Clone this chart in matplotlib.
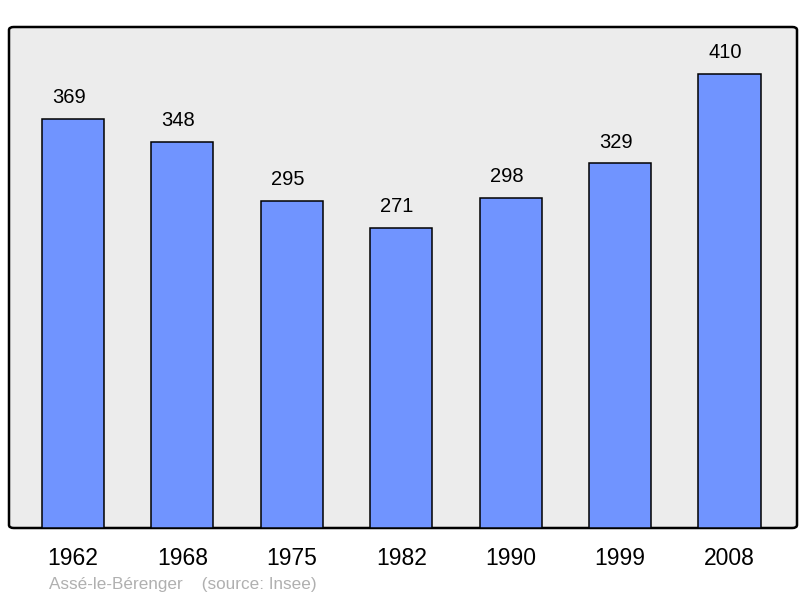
import matplotlib
matplotlib.use("Agg")
import matplotlib.pyplot as plt
from matplotlib.patches import FancyBboxPatch

years = ["1962", "1968", "1975", "1982", "1990", "1999", "2008"]
population = [369, 348, 295, 271, 298, 329, 410]

plt.rcParams['font.family'] = ['Liberation Sans', 'DejaVu Sans']

fig = plt.figure(figsize=(8, 5.98), dpi=100)
ax = fig.add_axes([9/800, 70/598, 788/800, 501/598])
ax.set_xlim(-0.585, 6.617)
ax.set_ylim(0, 452)
ax.set_facecolor('none')
for s in ax.spines.values():
    s.set_visible(False)

# rounded frame
frame = FancyBboxPatch((0, 0), 1, 1, boxstyle="round,pad=0,rounding_size=0.006",
                       transform=ax.transAxes, facecolor='#ececec', edgecolor='black',
                       linewidth=1.8, zorder=0, clip_on=False)
ax.add_patch(frame)

x = list(range(len(years)))
ax.bar(x, population, width=0.567, color='#7094ff', edgecolor='black', linewidth=1.1, zorder=2)
for xi, v in zip(x, population):
    ax.annotate(str(v), (xi, v), xytext=(-3, 8.5), textcoords='offset points',
                ha='center', va='bottom', fontsize=14.5, color='black')

ax.set_xticks(x)
ax.set_xticklabels(years, fontsize=16.5)
ax.tick_params(axis='x', length=0, pad=14)
ax.set_yticks([])

fig.text(49/800, 1 - 584/598, "Assé-le-Bérenger    (source: Insee)", fontsize=12.3,
         color='#b0b0b0', ha='left', va='center')

fig.savefig("out.png", dpi=100)
